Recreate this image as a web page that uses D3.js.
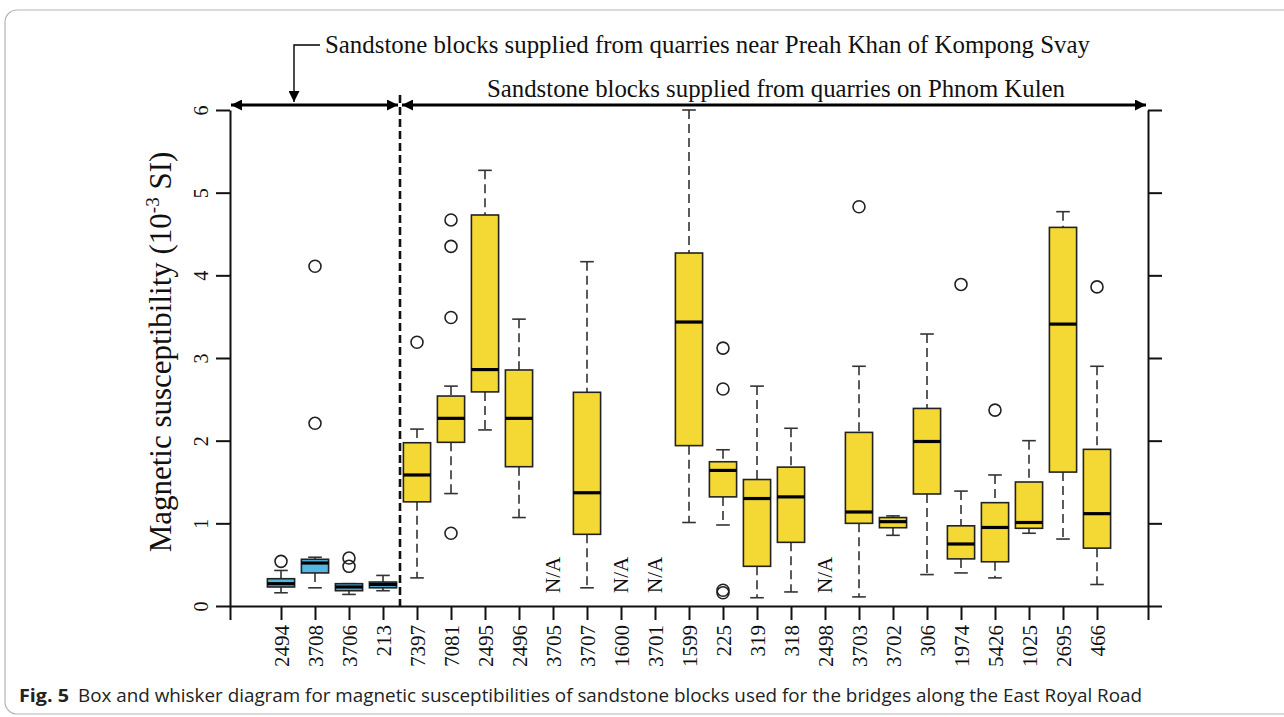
<!DOCTYPE html>
<html>
<head>
<meta charset="utf-8">
<script src="https://cdn.jsdelivr.net/npm/d3@7"></script>
<style>
  body { margin: 0; background: #fff; }
  svg text { font-family: "Liberation Serif", "Times New Roman", serif; }
  .caption { font-family: "Liberation Sans Narrow", "Open Sans", sans-serif; }
</style>
</head>
<body>
<svg id="chart" width="1284" height="717"></svg>
<script>
// bridge block ids along the x axis
const bridges = ['2494', '3708', '3706', '213', '7397', '7081', '2495', '2496', '3705', '3707',
    '1600', '3701', '1599', '225', '319', '318', '2498', '3703', '3702', '306',
    '1974', '5426', '1025', '2695', '466'];
// first 4 from Preah Khan of Kompong Svay, the rest from Phnom Kulen
const quarry = ['PK', 'PK', 'PK', 'PK', 'KU', 'KU', 'KU', 'KU', 'KU', 'KU', 'KU', 'KU', 'KU',
    'KU', 'KU', 'KU', 'KU', 'KU', 'KU', 'KU', 'KU', 'KU', 'KU', 'KU', 'KU'];
// box stats (null = N/A)
const whiskerLow = [0.16, 0.22, 0.14, 0.185, 0.34, 1.36, 2.13, 1.07, null, 0.22,
    null, null, 1.01, 0.98, 0.10, 0.17, null, 0.11, 0.855, 0.38,
    0.40, 0.34, 0.88, 0.81, 0.26];
const q1 = [0.23, 0.40, 0.185, 0.22, 1.26, 1.98, 2.59, 1.685, null, 0.867,
    null, null, 1.94, 1.32, 0.48, 0.77, null, 1.0, 0.947, 1.355,
    0.57, 0.535, 0.94, 1.62, 0.70];
const median = [0.27, 0.52, 0.23, 0.26, 1.585, 2.27, 2.86, 2.27, null, 1.37,
    null, null, 3.435, 1.64, 1.30, 1.32, null, 1.137, 1.02, 1.99,
    0.75, 0.95, 1.01, 3.41, 1.117];
const q3 = [0.33, 0.565, 0.27, 0.29, 1.975, 2.54, 4.73, 2.855, null, 2.585,
    null, null, 4.27, 1.745, 1.53, 1.68, null, 2.10, 1.07, 2.39,
    0.97, 1.25, 1.50, 4.58, 1.895];
const whiskerHigh = [0.43, 0.59, 0.27, 0.37, 2.14, 2.66, 5.27, 3.47, null, 4.165,
    null, null, 6.0, 1.89, 2.66, 2.15, null, 2.90, 1.09, 3.29,
    1.39, 1.585, 2.0, 4.77, 2.90];
const outliers = [[0.54], [2.21, 4.11], [0.48, 0.58], [], [3.19], [0.88, 3.49, 4.35, 4.67], [], [], [], [],
    [], [], [], [0.16, 0.19, 2.625, 3.12], [], [], [], [4.83], [], [],
    [3.89], [2.37], [], [], [3.86]];
const yTicks = [0, 1, 2, 3, 4, 5, 6];

const colors = { PK: '#55b6e4', KU: '#f4d935' };

const svg = d3.select('#chart');

// card frame
svg.append('rect')
    .attr('x', 5).attr('y', 10)
    .attr('width', 1300).attr('height', 704)
    .attr('rx', 12)
    .attr('fill', 'none')
    .attr('stroke', '#b5b5b5')
    .attr('stroke-width', 1.2);

const x = d3.scaleLinear().domain([-0.5, 26.5]).range([230, 1148]);
const y = d3.scaleLinear().domain([0, 6]).range([606, 110]);
const step = x(1) - x(0);
const boxW = step * 0.8;

const data = bridges.map((b, i) => ({
    id: b, pos: i + 1, src: quarry[i],
    lo: whiskerLow[i], q1: q1[i], med: median[i], q3: q3[i], hi: whiskerHigh[i],
    out: outliers[i]
}));

// axes
const axisStyle = g => {
    g.select('.domain').attr('stroke', '#111').attr('stroke-width', 2);
    g.selectAll('.tick line').attr('stroke', '#111').attr('stroke-width', 2);
};

const left = svg.append('g')
    .attr('transform', `translate(${x(-0.5)},0)`)
    .call(d3.axisLeft(y).tickValues(yTicks).tickSize(14).tickSizeOuter(0).tickPadding(0)
        .tickFormat(d3.format('d')))
    .call(axisStyle);
left.selectAll('.tick text')
    .attr('x', 0).attr('dy', 0)
    .attr('transform', 'translate(-22,0) rotate(-90)')
    .attr('text-anchor', 'middle')
    .attr('font-size', 20)
    .attr('font-family', '"Liberation Serif", serif')
    .attr('fill', '#111');

svg.append('g')
    .attr('transform', `translate(${x(26.5)},0)`)
    .call(d3.axisRight(y).tickValues(yTicks).tickSize(14).tickSizeOuter(0).tickFormat(''))
    .call(axisStyle);

const xTickVals = [-0.5].concat(d3.range(1, 26), [26.5]);
const bottom = svg.append('g')
    .attr('transform', `translate(0,${y(0)})`)
    .call(d3.axisBottom(x).tickValues(xTickVals).tickSize(14).tickSizeOuter(0)
        .tickFormat(d => (d >= 1 && d <= 25) ? bridges[d - 1] : ''))
    .call(axisStyle);
bottom.selectAll('.tick text')
    .attr('y', 0).attr('x', 0).attr('dy', 0)
    .attr('transform', 'translate(7,19) rotate(-90)')
    .attr('text-anchor', 'end')
    .attr('font-size', 21)
    .attr('font-family', '"Liberation Serif", serif')
    .attr('fill', '#111');

// y axis title
const yt = svg.append('text')
    .attr('transform', 'translate(171,352) rotate(-90)')
    .attr('text-anchor', 'middle')
    .attr('font-size', 31)
    .attr('fill', '#111');
yt.append('tspan').text('Magnetic susceptibility (10');
yt.append('tspan').attr('font-size', 19).attr('dy', -12).text('-3');
yt.append('tspan').attr('dy', 12).text(' SI)');

// boxes
const boxes = svg.append('g').selectAll('g')
    .data(data.filter(d => d.med !== null))
    .join('g');

boxes.append('line')
    .attr('x1', d => x(d.pos)).attr('x2', d => x(d.pos))
    .attr('y1', d => y(d.hi)).attr('y2', d => y(d.q3))
    .attr('stroke', '#333').attr('stroke-width', 1.6).attr('stroke-dasharray', '9,5');
boxes.append('line')
    .attr('x1', d => x(d.pos)).attr('x2', d => x(d.pos))
    .attr('y1', d => y(d.q1)).attr('y2', d => y(d.lo))
    .attr('stroke', '#333').attr('stroke-width', 1.6).attr('stroke-dasharray', '9,5');
['hi', 'lo'].forEach(k => {
    boxes.append('line')
        .attr('x1', d => x(d.pos) - boxW / 4).attr('x2', d => x(d.pos) + boxW / 4)
        .attr('y1', d => y(d[k])).attr('y2', d => y(d[k]))
        .attr('stroke', '#333').attr('stroke-width', 1.6);
});
boxes.append('rect')
    .attr('x', d => x(d.pos) - boxW / 2)
    .attr('width', boxW)
    .attr('y', d => y(d.q3))
    .attr('height', d => y(d.q1) - y(d.q3))
    .attr('fill', d => colors[d.src])
    .attr('stroke', '#222').attr('stroke-width', 1.6);
boxes.append('line')
    .attr('x1', d => x(d.pos) - boxW / 2).attr('x2', d => x(d.pos) + boxW / 2)
    .attr('y1', d => y(d.med)).attr('y2', d => y(d.med))
    .attr('stroke', '#000').attr('stroke-width', 3.2);
boxes.selectAll('circle')
    .data(d => d.out.map(v => ({ pos: d.pos, v: v })))
    .join('circle')
    .attr('cx', d => x(d.pos)).attr('cy', d => y(d.v))
    .attr('r', 6)
    .attr('fill', 'none').attr('stroke', '#222').attr('stroke-width', 1.6);

// N/A labels
svg.append('g').selectAll('text')
    .data(data.filter(d => d.med === null))
    .join('text')
    .attr('transform', d => `translate(${x(d.pos) + 7},${y(0) - 13}) rotate(-90)`)
    .attr('text-anchor', 'start')
    .attr('font-size', 21)
    .attr('fill', '#111')
    .text('N/A');

// group separator
const sepX = x(4.5);
svg.append('line')
    .attr('x1', sepX).attr('x2', sepX)
    .attr('y1', 95).attr('y2', y(0))
    .attr('stroke', '#111').attr('stroke-width', 2.6).attr('stroke-dasharray', '8,4');

// arrows
const defs = svg.append('defs');
defs.append('marker')
    .attr('id', 'head').attr('viewBox', '0 0 10 10')
    .attr('refX', 10).attr('refY', 5)
    .attr('markerWidth', 16).attr('markerHeight', 11)
    .attr('markerUnits', 'userSpaceOnUse')
    .attr('orient', 'auto-start-reverse')
    .append('path').attr('d', 'M0,0L10,5L0,10Z').attr('fill', '#000');

const arrowY = 105;
svg.append('line')
    .attr('x1', x(-0.5) + 1).attr('x2', sepX - 2)
    .attr('y1', arrowY).attr('y2', arrowY)
    .attr('stroke', '#000').attr('stroke-width', 3)
    .attr('marker-start', 'url(#head)').attr('marker-end', 'url(#head)');
svg.append('line')
    .attr('x1', sepX + 2).attr('x2', x(26.5) - 2)
    .attr('y1', arrowY).attr('y2', arrowY)
    .attr('stroke', '#000').attr('stroke-width', 3)
    .attr('marker-start', 'url(#head)').attr('marker-end', 'url(#head)');

// pointer to the Preah Khan group
svg.append('path')
    .attr('d', `M320,45H294V${arrowY - 3}`)
    .attr('fill', 'none').attr('stroke', '#000').attr('stroke-width', 1.4)
    .attr('marker-end', 'url(#head)');

svg.append('text')
    .attr('x', 325).attr('y', 53)
    .attr('font-size', 25)
    .attr('textLength', 765).attr('lengthAdjust', 'spacingAndGlyphs')
    .attr('fill', '#111')
    .text('Sandstone blocks supplied from quarries near Preah Khan of Kompong Svay');
svg.append('text')
    .attr('x', 487).attr('y', 97)
    .attr('font-size', 25)
    .attr('textLength', 578).attr('lengthAdjust', 'spacingAndGlyphs')
    .attr('fill', '#111')
    .text('Sandstone blocks supplied from quarries on Phnom Kulen');

// caption
svg.append('text')
    .attr('class', 'caption')
    .attr('x', 19).attr('y', 702)
    .attr('font-size', 18).attr('font-weight', 'bold')
    .attr('textLength', 50).attr('lengthAdjust', 'spacingAndGlyphs')
    .attr('fill', '#222')
    .text('Fig. 5');
svg.append('text')
    .attr('class', 'caption')
    .attr('x', 78).attr('y', 702)
    .attr('font-size', 18)
    .attr('textLength', 1064).attr('lengthAdjust', 'spacingAndGlyphs')
    .attr('fill', '#222')
    .text('Box and whisker diagram for magnetic susceptibilities of sandstone blocks used for the bridges along the East Royal Road');
</script>
</body>
</html>
